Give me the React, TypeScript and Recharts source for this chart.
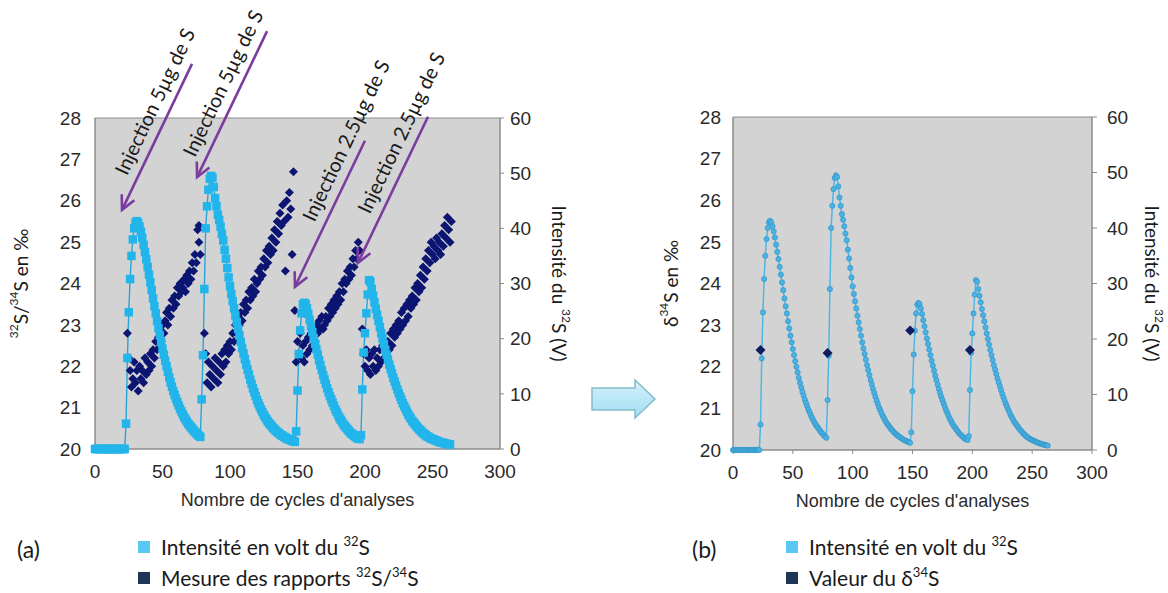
import React from 'react';
import { ComposedChart, Line, Scatter, XAxis, YAxis, CartesianGrid, ReferenceArea, ReferenceDot } from 'recharts';

// Intensité du 32S (V), une valeur par cycle (index = cycle)
const intensite32S = [
  0, 0, 0, 0, 0, 0, 0, 0, 0, 0, 0, 0, 0, 0, 0, 0, 0, 0, 0, 0, 0, 0, 0,
  4.6, 16.5, 24.8, 30.8, 35.0, 38.0, 40.0, 41.0, 41.3, 41.0, 40.3, 39.4, 38.3, 37.0, 35.7, 34.4, 33.0,
  31.6, 30.2, 28.8, 27.3, 25.9, 24.6, 23.2, 21.9, 20.6, 19.4, 18.2, 17.1, 16.0, 15.0, 14.0, 13.0,
  12.1, 11.3, 10.5, 9.8, 9.1, 8.5, 7.9, 7.3, 6.8, 6.3, 5.8, 5.4, 5.0, 4.6, 4.3, 4.0, 3.7, 3.4, 3.1,
  2.9, 2.6, 2.4, 2.2,
  9.0, 17.0, 29.0, 40.0, 44.0, 47.0, 49.0, 49.5, 49.2, 47.5, 45.5, 44.0, 42.5, 41.5, 40.3, 39.0,
  37.8, 36.1, 34.5, 32.8, 31.1, 29.5, 28.1, 26.8, 25.5, 24.2, 23.0, 21.8, 20.6, 19.4, 18.3, 17.3,
  16.3, 15.3, 14.4, 13.5, 12.6, 11.8, 11.0, 10.3, 9.6, 8.9, 8.3, 7.7, 7.2, 6.7, 6.2, 5.8, 5.4, 5.0,
  4.7, 4.4, 4.1, 3.8, 3.6, 3.3, 3.1, 2.9, 2.7, 2.5, 2.4, 2.2, 2.1, 1.9, 1.8, 1.7, 1.6, 1.5, 1.4, 1.3,
  3.2, 10.6, 17.2, 21.5, 24.6, 26.2, 26.5, 26.3, 25.5, 24.5, 23.4, 22.3, 21.2, 20.1, 19.1, 18.1,
  17.1, 16.1, 15.2, 14.3, 13.4, 12.6, 11.8, 11.0, 10.3, 9.6, 9.0, 8.4, 7.8, 7.2, 6.7, 6.2, 5.7, 5.3,
  4.9, 4.5, 4.2, 3.9, 3.6, 3.3, 3.0, 2.8, 2.6, 2.4, 2.2, 2.0, 1.9, 1.8,
  2.5, 10.8, 17.5, 21.0, 24.6, 28.0, 30.6, 30.3, 29.0, 27.8, 26.6, 25.4, 24.3, 23.2, 22.1, 21.0,
  20.0, 19.0, 18.0, 17.1, 16.2, 15.3, 14.5, 13.7, 12.9, 12.2, 11.5, 10.8, 10.1, 9.5, 8.9, 8.3, 7.8,
  7.3, 6.8, 6.3, 5.9, 5.5, 5.1, 4.8, 4.5, 4.2, 3.9, 3.6, 3.4, 3.1, 2.9, 2.7, 2.5, 2.3, 2.2, 2.0,
  1.9, 1.8, 1.7, 1.6, 1.5, 1.4, 1.3, 1.2, 1.15, 1.1, 1.0, 0.95, 0.9, 0.85, 0.8,
];

// Mesure des rapports 32S/34S (‰) : [cycle, valeur]
const rapports32S34S = [
  [24, 22.8], [25, 22.2], [26, 21.9], [27, 21.5], [28, 21.7], [29, 22.1], [30, 21.6], [31, 21.9],
  [32, 21.4], [33, 22.0], [34, 21.7], [35, 21.9], [36, 21.6], [37, 22.2], [38, 21.8], [39, 22.1],
  [40, 21.9], [41, 22.3], [42, 22.0], [43, 22.4], [44, 22.2], [45, 22.6], [46, 22.4], [47, 22.7],
  [48, 22.9], [49, 22.6], [50, 23.0], [51, 22.8], [52, 23.1], [53, 23.3], [54, 23.0], [55, 23.4],
  [56, 23.2], [57, 23.6], [58, 23.4], [59, 23.7], [60, 23.5], [61, 23.9], [62, 23.7], [63, 24.0],
  [64, 23.8], [65, 23.9], [66, 24.1], [67, 23.8], [68, 24.2], [69, 24.0], [70, 24.3], [71, 24.1],
  [72, 24.5], [73, 24.3], [74, 24.7], [75, 24.5], [76, 25.3], [77, 25.0], [77, 25.4], [78, 24.7],
  [81, 22.8], [82, 22.3], [83, 21.6], [84, 22.1], [85, 21.8], [86, 21.5], [87, 22.0], [88, 21.7],
  [89, 22.2], [90, 21.9], [91, 21.6], [92, 22.1], [93, 21.8], [94, 22.3], [95, 22.0], [96, 22.4],
  [97, 22.1], [98, 22.5], [99, 22.3], [100, 22.6], [101, 22.4], [102, 22.8], [103, 22.6], [104, 23.0],
  [105, 22.8], [106, 23.2], [107, 23.0], [108, 23.3], [109, 23.1], [110, 23.5], [111, 23.3], [112, 23.6],
  [113, 23.4], [114, 23.8], [115, 23.6], [116, 23.9], [117, 23.7], [118, 24.1], [119, 23.8], [120, 24.0],
  [121, 24.3], [122, 24.1], [123, 24.4], [124, 24.2], [125, 24.6], [126, 24.4], [127, 24.8], [128, 24.5],
  [129, 24.9], [130, 24.7], [131, 25.1], [132, 24.8], [133, 25.3], [134, 25.0], [135, 25.5], [136, 25.2],
  [137, 25.7], [138, 25.4], [139, 25.9], [140, 25.5], [141, 24.3], [142, 26.0], [143, 25.6], [144, 26.2],
  [145, 25.8], [146, 24.7], [147, 26.7],
  [148, 23.35], [149, 22.1], [150, 22.6], [151, 22.3], [152, 22.8], [153, 22.2], [154, 22.5], [155, 22.1],
  [156, 22.6], [157, 22.3], [158, 22.7], [159, 22.4], [160, 22.8], [161, 22.5], [162, 22.9], [163, 22.6],
  [164, 23.0], [165, 22.8], [166, 23.1], [167, 22.9], [168, 23.2], [169, 22.9], [170, 23.0], [171, 23.2],
  [172, 23.1], [173, 23.4], [174, 23.2], [175, 23.5], [176, 23.3], [177, 23.6], [178, 23.4], [179, 23.7],
  [180, 23.5], [181, 23.8], [182, 23.6], [183, 24.0], [184, 23.8], [185, 24.1], [186, 24.0], [187, 24.3],
  [188, 24.1], [189, 24.4], [190, 24.2], [191, 24.6], [192, 24.4], [193, 24.8], [194, 24.6], [195, 25.0],
  [196, 24.8],
  [198, 22.9], [199, 22.3], [200, 22.0], [201, 22.4], [202, 21.9], [203, 22.2], [204, 21.8], [205, 22.3],
  [206, 22.0], [207, 22.4], [208, 21.9], [209, 22.2], [210, 22.0], [211, 22.4], [212, 22.1], [213, 22.5],
  [214, 22.2], [215, 22.6], [216, 22.3], [217, 22.6], [218, 22.4], [219, 22.8], [220, 22.5], [221, 22.9],
  [222, 22.7], [223, 23.0], [224, 22.8], [225, 23.1], [226, 22.9], [227, 23.3], [228, 23.0], [229, 23.4],
  [230, 23.1], [231, 23.5], [232, 23.2], [233, 23.6], [234, 23.4], [235, 23.7], [236, 23.5], [237, 23.9],
  [238, 23.6], [239, 24.0], [240, 23.8], [241, 24.2], [242, 23.9], [243, 24.4], [244, 24.1], [245, 24.6],
  [246, 24.3], [247, 24.8], [248, 24.5], [249, 25.0], [250, 24.7], [251, 24.9], [252, 24.6], [253, 25.1],
  [254, 24.8], [255, 25.0], [256, 24.7], [257, 25.2], [258, 24.9], [259, 25.4], [260, 25.1], [261, 25.6],
  [262, 25.3], [263, 25.0], [264, 25.5],
];

// Valeur du δ34S (‰) : [cycle, valeur]
const delta34S = [[23, 22.4], [79, 22.33], [148, 22.87], [198, 22.4]];

const xTicks = [0, 50, 100, 150, 200, 250, 300];
const leftTicks = [20, 21, 22, 23, 24, 25, 26, 27, 28];
const rightTicks = [0, 10, 20, 30, 40, 50, 60];

const injectionLabels = ['Injection 5µg de S', 'Injection 5µg de S', 'Injection 2.5µg de S', 'Injection 2.5µg de S'];
// pointe de chaque flèche : [cycle, ‰]
const injectionTips = [[20, 25.78], [75.6, 26.57], [148.1, 23.92], [194.8, 24.5]];

const intensiteData = intensite32S.map((v, i) => ({ cycle: i, intensite: v }));
const rapportData = rapports32S34S.map(([c, r]) => ({ cycle: c, rapport: r }));
const deltaData = delta34S.map(([c, d]) => ({ cycle: c, delta: d }));

const AXIS_FONT = '"Liberation Sans", Arial, sans-serif';
const TEXT_FONT = 'Lato, "Open Sans", sans-serif';
const CYAN = '#22b5eb';
const NAVY = '#0c1571';
const PLOT_BG = '#d3d3d3';
const BORDER = '#8c8c8c';
const PURPLE = '#7a3d9f';

const tickStyle = { fill: '#2a2a2a', fontSize: 19, fontFamily: AXIS_FONT };

const SquareDot = (props: any) => {
  const { cx, cy, index } = props;
  if (cx == null || cy == null) return null;
  return <rect key={`sq-${index}`} x={cx - 4.25} y={cy - 4.25} width={8.5} height={8.5} fill={CYAN} />;
};

const SmallDot = (props: any) => {
  const { cx, cy, index } = props;
  if (cx == null || cy == null) return null;
  return <circle key={`sd-${index}`} cx={cx} cy={cy} r={2.6} fill="#48b3e4" stroke="#3593c6" strokeWidth={0.7} />;
};

const diamond = (s: number, color: string) => (props: any) => {
  const { cx, cy } = props;
  return <polygon points={`${cx},${cy - s} ${cx + s},${cy} ${cx},${cy + s} ${cx - s},${cy}`} fill={color} />;
};

// flèche et texte d'injection, ancrés sur la pointe
const ARROW_DX = 70;
const ARROW_DY = -146;
const injectionAlong = [50, 66, 8, 26];

const injectionShape = (label: string, along: number) => (props: any) => {
  const { cx, cy } = props;
  const tx = cx + ARROW_DX;
  const ty = cy + ARROW_DY;
  const len = Math.hypot(ARROW_DX, ARROW_DY);
  const ux = -ARROW_DX / len;
  const uy = -ARROW_DY / len;
  const px = -uy;
  const py = ux;
  const h = 14;
  const w = 7;
  const bx = cx - ux * h;
  const by = cy - uy * h;
  const angle = (Math.atan2(ARROW_DY, ARROW_DX) * 180) / Math.PI;
  const lx = tx + ux * along + px * 18;
  const ly = ty + uy * along + py * 18;
  return (
    <g>
      <line x1={tx} y1={ty} x2={cx} y2={cy} stroke={PURPLE} strokeWidth={2.6} />
      <path d={`M${bx + px * w},${by + py * w} L${cx},${cy} L${bx - px * w},${by - py * w}`} fill="none" stroke={PURPLE} strokeWidth={2.6} />
      <text x={lx} y={ly} transform={`rotate(${angle}, ${lx}, ${ly})`} textAnchor="middle" dominantBaseline="central"
        fontFamily={TEXT_FONT} fontSize={20} fill="#1a1a1a">{label}</text>
    </g>
  );
};

const VerticalTitle = (props: any) => {
  const { viewBox, dx, parts, up } = props;
  const x = viewBox.x + dx;
  const y = viewBox.y + viewBox.height / 2;
  return (
    <text x={x} y={y} transform={`rotate(${up ? -90 : 90}, ${x}, ${y})`} textAnchor="middle" dominantBaseline="central"
      fontFamily={TEXT_FONT} fontSize={19} fill="#1a1a1a">
      {parts.map((p: [string, boolean], i: number) =>
        p[1] ? (
          <tspan key={i} fontSize={12} dy={-7}>{p[0]}</tspan>
        ) : (
          <tspan key={i} fontSize={19} dy={i > 0 && parts[i - 1][1] ? 7 : 0}>{p[0]}</tspan>
        ),
      )}
    </text>
  );
};

const XTitle = (props: any) => {
  const { viewBox } = props;
  return (
    <text x={viewBox.x + viewBox.width / 2} y={viewBox.y + 51} textAnchor="middle" dominantBaseline="central"
      fontFamily={AXIS_FONT} fontSize={18} fill="#2a2a2a">Nombre de cycles d'analyses</text>
  );
};

const LeftChart = () => (
  <ComposedChart width={600} height={520} margin={{ top: 118, right: 40, bottom: 41, left: 35 }}>
    <CartesianGrid yAxisId="left" fill={PLOT_BG} horizontal={false} vertical={false} />
    <XAxis dataKey="cycle" type="number" domain={[0, 300]} ticks={xTicks} height={30} allowDuplicatedCategory={false}
      axisLine={{ stroke: BORDER }} tickLine={false} tickSize={0} tickMargin={16} tick={tickStyle} label={<XTitle />} />
    <YAxis yAxisId="left" type="number" domain={[20, 28]} ticks={leftTicks} width={60}
      axisLine={{ stroke: BORDER }} tickLine={false} tickSize={0} tickMargin={14} tick={tickStyle}
      label={<VerticalTitle dx={-15} up parts={[['32', true], ['S/', false], ['34', true], ['S en ‰', false]]} />} />
    <YAxis yAxisId="right" orientation="right" type="number" domain={[0, 60]} ticks={rightTicks} width={60}
      axisLine={{ stroke: BORDER }} tickLine={{ stroke: BORDER }} tickSize={4} tickMargin={6} tick={tickStyle}
      label={<VerticalTitle dx={60} parts={[['Intensité du ', false], ['32', true], ['S (V)', false]]} />} />
    <ReferenceArea yAxisId="left" x1={0} x2={300} y1={20} y2={28} fill="none" stroke={BORDER} ifOverflow="visible" />
    <Scatter yAxisId="left" data={rapportData} dataKey="rapport" fill={NAVY} shape={diamond(4.5, NAVY)} isAnimationActive={false} />
    <Line yAxisId="right" data={intensiteData} dataKey="intensite" type="linear" stroke="#2aa3da" strokeWidth={1.4}
      dot={SquareDot} activeDot={false} isAnimationActive={false} />
    {injectionTips.map(([c, v], i) => (
      <ReferenceDot key={i} yAxisId="left" x={c} y={v} ifOverflow="visible"
        shape={injectionShape(injectionLabels[i], injectionAlong[i])} />
    ))}
  </ComposedChart>
);

const RightChart = () => (
  <ComposedChart width={568} height={520} margin={{ top: 117, right: 16, bottom: 40, left: 73 }}>
    <CartesianGrid yAxisId="left" fill={PLOT_BG} horizontal={false} vertical={false} />
    <XAxis dataKey="cycle" type="number" domain={[0, 300]} ticks={xTicks} height={30} allowDuplicatedCategory={false}
      axisLine={{ stroke: BORDER }} tickLine={{ stroke: BORDER }} tickSize={4} tickMargin={12} tick={tickStyle} label={<XTitle />} />
    <YAxis yAxisId="left" type="number" domain={[20, 28]} ticks={leftTicks} width={60}
      axisLine={{ stroke: BORDER }} tickLine={false} tickSize={0} tickMargin={12} tick={tickStyle}
      label={<VerticalTitle dx={-3} up parts={[['δ', false], ['34', true], ['S en ‰', false]]} />} />
    <YAxis yAxisId="right" orientation="right" type="number" domain={[0, 60]} ticks={rightTicks} width={60}
      axisLine={{ stroke: BORDER }} tickLine={{ stroke: BORDER }} tickSize={5} tickMargin={10} tick={tickStyle}
      label={<VerticalTitle dx={61} parts={[['Intensité du ', false], ['32', true], ['S (V)', false]]} />} />
    <ReferenceArea yAxisId="left" x1={0} x2={300} y1={20} y2={28} fill="none" stroke={BORDER} ifOverflow="visible" />
    <Line yAxisId="right" data={intensiteData} dataKey="intensite" type="linear" stroke="#4fb6e4" strokeWidth={1.5}
      dot={SmallDot} activeDot={false} isAnimationActive={false} />
    <Scatter yAxisId="left" data={deltaData} dataKey="delta" fill={NAVY} shape={diamond(5, '#101b60')} isAnimationActive={false} />
  </ComposedChart>
);

const LegendRow = ({ color, children, top, left }: any) => (
  <div style={{ position: 'absolute', left, top, display: 'flex', alignItems: 'center', whiteSpace: 'nowrap' }}>
    <div style={{ width: 12, height: 12, background: color, marginRight: 11 }} />
    <span style={{ fontFamily: TEXT_FONT, fontSize: 21, color: '#1a1a1a' }}>{children}</span>
  </div>
);

const sup = (t: string) => <sup style={{ fontSize: 13, verticalAlign: 'top', position: 'relative', top: -1 }}>{t}</sup>;

export default function App() {
  return (
    <div style={{ position: 'absolute', left: 0, top: 0, width: 1168, height: 593, background: '#fff', overflow: 'hidden' }}>
      <div style={{ position: 'absolute', left: 0, top: 0 }}>
        <LeftChart />
      </div>
      <div style={{ position: 'absolute', left: 600, top: 0 }}>
        <RightChart />
      </div>
      <svg style={{ position: 'absolute', left: 588, top: 376 }} width={72} height={48}>
        <defs>
          <linearGradient id="flecheBleue" x1="0" y1="0" x2="0" y2="1">
            <stop offset="0" stopColor="#d6f2fb" />
            <stop offset="1" stopColor="#9fdcf1" />
          </linearGradient>
        </defs>
        <path d="M4,12 L47,12 L47,4 L67,23 L47,42 L47,34 L4,34 Z" fill="url(#flecheBleue)" stroke="#86bccb" strokeWidth={1.5} />
      </svg>
      <div style={{ position: 'absolute', left: 17, top: 535, fontFamily: TEXT_FONT, fontSize: 23, color: '#1a1a1a' }}>(a)</div>
      <LegendRow color="#5ac6f4" top={534} left={138}>Intensité en volt du {sup('32')}S</LegendRow>
      <LegendRow color="#1f3558" top={565} left={138}>Mesure des rapports {sup('32')}S/{sup('34')}S</LegendRow>
      <div style={{ position: 'absolute', left: 692, top: 535, fontFamily: TEXT_FONT, fontSize: 23, color: '#1a1a1a' }}>(b)</div>
      <LegendRow color="#5ac6f4" top={534} left={786}>Intensité en volt du {sup('32')}S</LegendRow>
      <LegendRow color="#1f3558" top={565} left={786}>Valeur du δ{sup('34')}S</LegendRow>
    </div>
  );
}
